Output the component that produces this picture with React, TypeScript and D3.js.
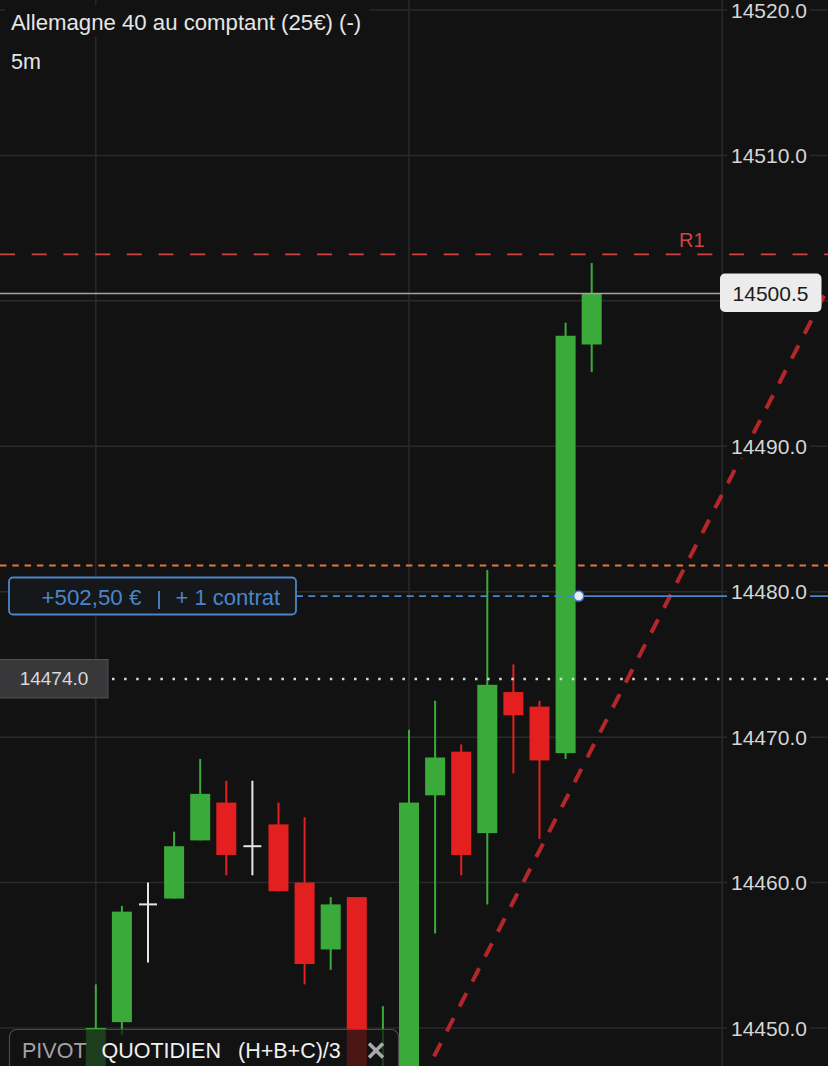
import React from 'react';
import * as d3 from 'd3';

// ---- data ----
const opens = [14444.0, 14446.0, 14450.4, 14458.5, 14458.9, 14462.9, 14465.5, 14462.5, 14464.0, 14460.0, 14455.4, 14459.0, 14440.0, 14445.0, 14466.0, 14469.0, 14463.4, 14473.1, 14472.1, 14468.9, 14497.0];
const highs = [14447.3, 14453.0, 14458.4, 14460.0, 14463.5, 14468.5, 14467.0, 14467.0, 14465.5, 14464.5, 14459.0, 14459.0, 14451.5, 14470.5, 14472.5, 14469.5, 14481.5, 14475.0, 14472.5, 14498.5, 14502.6];
const lows = [14442.0, 14444.5, 14449.5, 14454.5, 14458.9, 14462.9, 14460.5, 14460.5, 14459.4, 14453.0, 14454.0, 14443.0, 14438.0, 14443.0, 14456.5, 14460.5, 14458.5, 14467.5, 14463.0, 14468.5, 14495.1];
const closes = [14447.3, 14450.0, 14458.0, 14458.5, 14462.5, 14466.1, 14461.9, 14462.5, 14459.4, 14454.4, 14458.5, 14445.0, 14446.0, 14465.5, 14468.6, 14461.9, 14473.6, 14471.5, 14468.4, 14497.6, 14500.5];

const priceTicks = [14450, 14460, 14470, 14480, 14490, 14500, 14510, 14520];
const timeGridIndexes = [1, 13, 25];
const trendPoints: [number, number][] = [[12, 14441.2], [29, 14500.7]];
const r1Level = 14503.2;
const lastPrice = 14500.5;
const orangeLevel = 14481.8;
const entryLevel = 14479.7;
const entryIndex = 19.5;
const crosshairLevel = 14474.0;

const title = 'Allemagne 40 au comptant (25€) (-)';
const timeframe = '5m';
const pnlText = '+502,50 €';
const contractText = '+ 1 contrat';

const W = 828;
const H = 1066;
const BG = '#121212';
const GREEN = '#3aab3a';
const RED = '#e3201f';
const DOJI = '#e6e6e6';
const BLUE = '#4a86c8';
const FONT = '"Liberation Sans", Arial, sans-serif';

export default function App() {
  const x = d3.scaleLinear().domain([0, 25]).range([69.7, 722.2]);
  const y = d3.scaleLinear().domain([14450, 14520]).range([1028, 10]);
  const bodyW = 20;
  const trend = d3.line<[number, number]>().x(d => x(d[0])).y(d => y(d[1]));
  // axis labels hidden where the last-price box sits
  const labelTicks = priceTicks.filter(t => Math.abs(y(t) - y(lastPrice)) > 20);

  return (
    <svg
      width={W}
      height={H}
      style={{ position: 'absolute', left: 0, top: 0, display: 'block' }}
      fontFamily={FONT}
    >
      <rect x={0} y={0} width={W} height={H} fill={BG} />

      {/* grid */}
      {priceTicks.map(t => (
        <line key={'h' + t} x1={0} x2={W} y1={y(t)} y2={y(t)} stroke="#2a2a2c" strokeWidth={1.5} />
      ))}
      {timeGridIndexes.map(i => (
        <line key={'v' + i} x1={x(i)} x2={x(i)} y1={0} y2={H} stroke="#2a2a2c" strokeWidth={1.5} />
      ))}

      {/* title */}
      <rect x={5} y={5} width={364} height={32} fill={BG} />
      <text x={11} y={30} fontSize={22.2} fill="#e6e6e6">{title}</text>
      <text x={11} y={69} fontSize={21.5} fill="#e6e6e6">{timeframe}</text>

      {/* R1 level */}
      <line x1={0} x2={W} y1={y(r1Level)} y2={y(r1Level)} stroke="#cf4442" strokeWidth={1.8} strokeDasharray="15 16.7" />
      <text x={679} y={247} fontSize={20} fill="#cf4442">R1</text>

      {/* orange level */}
      <line x1={0} x2={W} y1={y(orangeLevel)} y2={y(orangeLevel)} stroke="#e0773f" strokeWidth={2} strokeDasharray="6.5 5.8" />

      {/* candles */}
      {opens.map((o, i) => {
        const c = closes[i];
        const color = c > o ? GREEN : c < o ? RED : DOJI;
        const cx = x(i);
        if (c === o) {
          return (
            <g key={i}>
              <line x1={cx} x2={cx} y1={y(highs[i])} y2={y(lows[i])} stroke={color} strokeWidth={2} />
              <line x1={cx - 9} x2={cx + 9} y1={y(o)} y2={y(o)} stroke={color} strokeWidth={2} />
            </g>
          );
        }
        const top = y(Math.max(o, c));
        const bot = y(Math.min(o, c));
        return (
          <g key={i}>
            <line x1={cx} x2={cx} y1={y(highs[i])} y2={y(lows[i])} stroke={color} strokeWidth={2} />
            <rect x={cx - bodyW / 2} y={top} width={bodyW} height={Math.max(1, bot - top)} fill={color} />
          </g>
        );
      })}

      {/* trend line */}
      <path d={trend(trendPoints) || ''} stroke="#b5262a" strokeWidth={4} strokeDasharray="15 13" fill="none" />

      {/* last price line */}
      <line x1={0} x2={720} y1={y(lastPrice)} y2={y(lastPrice)} stroke="#a4a4a4" strokeWidth={1.5} />

      {/* crosshair dotted line */}
      <line x1={112} x2={W} y1={y(crosshairLevel)} y2={y(crosshairLevel)} stroke="#d8d8d8" strokeWidth={2.5} strokeDasharray="2.5 9.6" />

      {/* position entry line */}
      <line x1={296} x2={x(entryIndex)} y1={y(entryLevel)} y2={y(entryLevel)} stroke={BLUE} strokeWidth={1.6} strokeDasharray="7 5.3" />
      <line x1={x(entryIndex)} x2={W} y1={y(entryLevel)} y2={y(entryLevel)} stroke={BLUE} strokeWidth={1.8} />
      <circle cx={x(entryIndex)} cy={y(entryLevel)} r={5} fill="#e6edf7" stroke={BLUE} strokeWidth={1.5} />

      {/* position box */}
      <rect x={9} y={577.5} width={287} height={37} rx={4} fill="#15171b" stroke={BLUE} strokeWidth={1.8} />
      <text x={41.5} y={605} fontSize={22.3} fill={BLUE}>{pnlText}</text>
      <line x1={159} x2={159} y1={591} y2={609} stroke={BLUE} strokeWidth={1.8} />
      <text x={175.5} y={605} fontSize={22} fill={BLUE}>{contractText}</text>

      {/* crosshair price box */}
      <rect x={-1} y={659.5} width={109} height={38.5} fill="#38383b" stroke="#505054" strokeWidth={1} />
      <text x={54} y={685} fontSize={19} fill="#d8d8d8" textAnchor="middle">{crosshairLevel.toFixed(1)}</text>

      {/* right axis labels */}
      {labelTicks.map(t => (
        <g key={'l' + t}>
          <rect x={727} y={y(t) - 12} width={83} height={24} fill={BG} />
          <text x={731} y={y(t)} dy="0.36em" fontSize={21} fill="#d6d6d6">{t.toFixed(1)}</text>
        </g>
      ))}

      {/* last price label */}
      <rect x={720} y={273.5} width={101.5} height={38.5} rx={5} fill="#ececec" />
      <text x={770.5} y={y(lastPrice)} dy="0.36em" fontSize={21} fill="#1a1a1a" textAnchor="middle">{lastPrice.toFixed(1)}</text>

      {/* pivot legend */}
      <rect x={9.5} y={1029.5} width={389} height={60} rx={7} fill="rgba(18,18,18,0.72)" stroke="#4a4a4e" strokeWidth={1.2} />
      <text x={22} y={1057.5} fontSize={21.5} fill="#a2a2aa">PIVOT</text>
      <text x={101.5} y={1057.5} fontSize={21.5} fill="#f0f0f0">QUOTIDIEN</text>
      <text x={238} y={1057.5} fontSize={21.5} fill="#f0f0f0">(H+B+C)/3</text>
      <g stroke="#a8a8b0" strokeWidth={3.5} strokeLinecap="butt">
        <line x1={369} x2={383} y1={1043.5} y2={1057.5} />
        <line x1={383} x2={369} y1={1043.5} y2={1057.5} />
      </g>
    </svg>
  );
}
